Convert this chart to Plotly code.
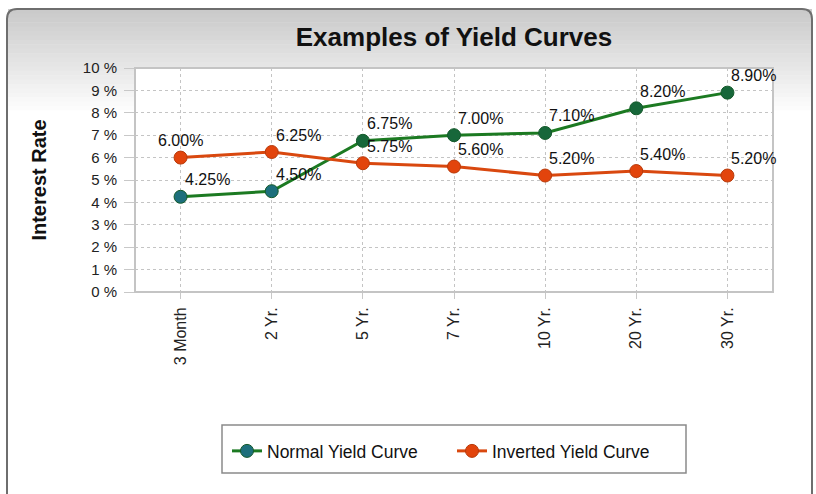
import plotly.graph_objects as go

categories = ["3 Month", "2 Yr.", "5 Yr.", "7 Yr.", "10 Yr.", "20 Yr.", "30 Yr."]
normal_yield = [4.25, 4.50, 6.75, 7.00, 7.10, 8.20, 8.90]
inverted_yield = [6.00, 6.25, 5.75, 5.60, 5.20, 5.40, 5.20]
y_tick_vals = list(range(0, 11))
y_tick_text = [f"{v} %" for v in y_tick_vals]

W, H = 816, 494
L, R, T, B = 135, 773, 68, 292  # plot area in px


def xp(px):
    return (px - L) / (R - L)


def yp(py):
    return (B - py) / (B - T)


FONT = "Liberation Sans, Arial, sans-serif"

fig = go.Figure()

fig.add_trace(go.Scatter(
    x=categories, y=normal_yield, name="Normal Yield Curve",
    mode="lines+markers",
    line=dict(color="#1c7a22", width=3),
    marker=dict(size=13, color=["#1d6f7c", "#1d6f7c", "#17673a", "#17673a", "#17673a", "#17673a", "#17673a"],
                line=dict(color="#145a2a", width=1)),
))
fig.add_trace(go.Scatter(
    x=categories, y=inverted_yield, name="Inverted Yield Curve",
    mode="lines+markers",
    line=dict(color="#d9480f", width=3),
    marker=dict(size=13, color="#e2440c", line=dict(color="#b83a0a", width=1)),
))

annotations = []
for series in (normal_yield, inverted_yield):
    for i, (cat, v) in enumerate(zip(categories, series)):
        centered = (series is inverted_yield and i == 0)
        annotations.append(dict(
            x=cat, y=v, xref="x", yref="y", text=f"{v:.2f}%", showarrow=False,
            xanchor="center" if centered else "left", yanchor="middle",
            xshift=0 if centered else 2, yshift=17,
            font=dict(family=FONT, size=16, color="#111111"),
        ))

shapes = []
# background gradient bands at top of panel
top_c, bot_c = (202, 202, 202), (255, 255, 255)
band_top, band_bot, n = 9, 115, 24
for i in range(n):
    t = i / (n - 1)
    c = tuple(int(top_c[k] + (bot_c[k] - top_c[k]) * t) for k in range(3))
    y0 = band_top + (band_bot - band_top) * i / n
    y1 = band_top + (band_bot - band_top) * (i + 1) / n
    shapes.append(dict(type="rect", xref="paper", yref="paper", layer="below",
                       x0=xp(8), x1=xp(812), y0=yp(y0), y1=yp(y1 + 0.5),
                       fillcolor=f"rgb{c}", line=dict(width=0)))

# panel frame with rounded top corners
r = 10
x0, x1, y0, y1 = 7, 812, 9, 500
path = (f"M {xp(x0)},{yp(y1)} L {xp(x0)},{yp(y0 + r)} Q {xp(x0)},{yp(y0)} {xp(x0 + r)},{yp(y0)} "
        f"L {xp(x1 - r)},{yp(y0)} Q {xp(x1)},{yp(y0)} {xp(x1)},{yp(y0 + r)} L {xp(x1)},{yp(y1)}")
shapes.append(dict(type="path", xref="paper", yref="paper", path=path, layer="above",
                   line=dict(color="#6e6e6e", width=2)))

# plot area white background + border
shapes.append(dict(type="rect", xref="paper", yref="paper", layer="below",
                   x0=0, x1=1, y0=0, y1=1, fillcolor="white", line=dict(color="#c4c4c4", width=2)))

# legend box
shapes.append(dict(type="rect", xref="paper", yref="paper", layer="below",
                   x0=xp(222), x1=xp(686), y0=yp(425), y1=yp(473),
                   fillcolor="white", line=dict(color="#8a8a8a", width=1.5)))

fig.update_layout(
    width=W, height=H,
    margin=dict(l=L, r=W - R, t=T, b=H - B, autoexpand=False),
    paper_bgcolor="white",
    plot_bgcolor="rgba(0,0,0,0)",
    shapes=shapes,
    annotations=annotations,
    title=dict(text="<b>Examples of Yield Curves</b>", xref="container", yref="container",
               x=454 / W, y=1 - 37 / H, xanchor="center", yanchor="middle",
               font=dict(family=FONT, size=26, color="#111111")),
    showlegend=True,
    legend=dict(orientation="h", x=xp(452), y=yp(451), xanchor="center", yanchor="middle",
                bgcolor="rgba(0,0,0,0)", borderwidth=0,
                font=dict(family=FONT, size=17.5, color="#111111"),
                entrywidth=180, entrywidthmode="pixels", itemwidth=30),
    xaxis=dict(
        range=[-0.5, 6.5], showgrid=True, gridcolor="#c4c4c4", griddash="dot", gridwidth=1,
        tickangle=-90, tickfont=dict(family=FONT, size=16, color="#222222"),
        ticks="outside", ticklen=6, tickcolor="#c8c8c8", ticklabelstandoff=2,
        showline=False, zeroline=False, fixedrange=True,
    ),
    yaxis=dict(
        range=[0, 10], tickvals=y_tick_vals, ticktext=y_tick_text,
        showgrid=True, gridcolor="#c4c4c4", griddash="dot", gridwidth=1,
        tickfont=dict(family=FONT, size=15, color="#222222"),
        ticks="outside", ticklen=10, tickcolor="#c8c8c8", ticklabelstandoff=4,
        title=dict(text="<b>Interest Rate</b>", standoff=30,
                   font=dict(family=FONT, size=20, color="#111111")),
        showline=False, zeroline=False, fixedrange=True,
    ),
)

fig.write_html("out.html", config={"displayModeBar": False},
               post_script="document.body.style.margin='0px';")
